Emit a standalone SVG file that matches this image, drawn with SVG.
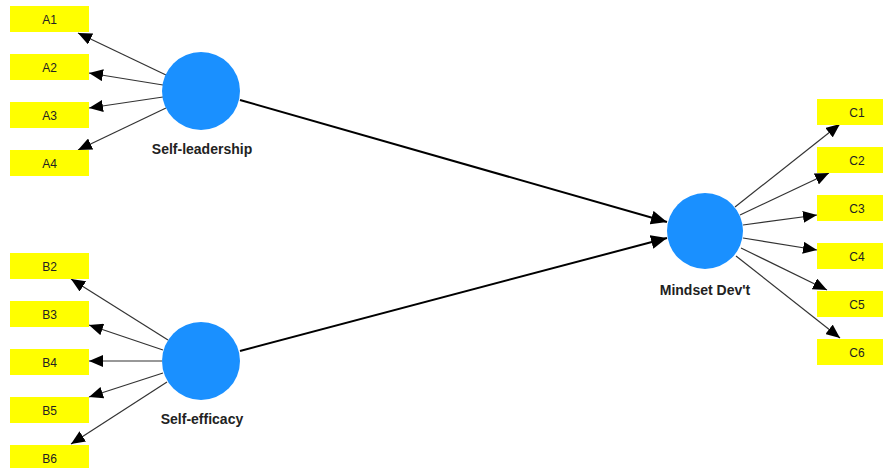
<svg xmlns="http://www.w3.org/2000/svg" width="883" height="468" viewBox="0 0 883 468">
<defs>
<marker id="ah" markerUnits="userSpaceOnUse" markerWidth="14" markerHeight="12" viewBox="0 0 14 12" refX="14" refY="6" orient="auto"><path d="M0,0 L14,6 L0,12 Z" fill="#000"/></marker>
<marker id="ahb" markerUnits="userSpaceOnUse" markerWidth="16" markerHeight="14" viewBox="0 0 16 14" refX="16" refY="7" orient="auto"><path d="M0,0 L16,7 L0,14 Z" fill="#000"/></marker>
</defs>
<style>
.ind rect{fill:#ffff00}
.ind text{font-family:"Liberation Sans",Arial,sans-serif;font-size:12px;fill:#222;text-anchor:middle}
.lv circle{fill:#1a90ff}
.lv text{font-family:"Liberation Sans",Arial,sans-serif;font-size:14px;font-weight:bold;fill:#222;text-anchor:middle}
.ld{stroke:#333;stroke-width:1.2;fill:none;marker-end:url(#ah)}
.pth{stroke:#000;stroke-width:2;fill:none;marker-end:url(#ahb)}
</style>
<rect width="883" height="468" fill="#fff"/>
<g id="connectors">
<line class="ld" x1="166" y1="75" x2="78" y2="33"/>
<line class="ld" x1="163" y1="85" x2="89" y2="73"/>
<line class="ld" x1="163" y1="97" x2="89" y2="108"/>
<line class="ld" x1="166" y1="108" x2="78" y2="150"/>
<line class="ld" x1="168" y1="340" x2="71" y2="279"/>
<line class="ld" x1="163" y1="350" x2="89" y2="325"/>
<line class="ld" x1="162" y1="361" x2="89" y2="361"/>
<line class="ld" x1="163" y1="373" x2="89" y2="397"/>
<line class="ld" x1="167" y1="382" x2="71" y2="444"/>
<line class="ld" x1="735" y1="207" x2="840" y2="124"/>
<line class="ld" x1="740" y1="215" x2="829" y2="173"/>
<line class="ld" x1="743" y1="225" x2="817" y2="215"/>
<line class="ld" x1="743" y1="238" x2="817" y2="250"/>
<line class="ld" x1="741" y1="248" x2="827" y2="290"/>
<line class="ld" x1="736" y1="256" x2="840" y2="338"/>
<line class="pth" x1="240" y1="100" x2="667" y2="222"/>
<line class="pth" x1="240" y1="351" x2="667" y2="238"/>
</g>
<g id="SelfLeadership" class="lv"><circle cx="201" cy="91" r="39"/><text x="202" y="154">Self-leadership</text></g>
<g id="SelfEfficacy" class="lv"><circle cx="201" cy="361" r="39"/><text x="202" y="424">Self-efficacy</text></g>
<g id="MindsetDevt" class="lv"><circle cx="705" cy="231" r="38"/><text x="705" y="295">Mindset Dev't</text></g>
<g id="A1" class="ind"><rect x="10" y="6" width="79" height="26"/><text x="49.5" y="24">A1</text></g>
<g id="A2" class="ind"><rect x="10" y="54" width="79" height="26"/><text x="49.5" y="72">A2</text></g>
<g id="A3" class="ind"><rect x="10" y="102" width="79" height="26"/><text x="49.5" y="120">A3</text></g>
<g id="A4" class="ind"><rect x="10" y="150" width="79" height="26"/><text x="49.5" y="168">A4</text></g>
<g id="B2" class="ind"><rect x="10" y="253" width="79" height="26"/><text x="49.5" y="271">B2</text></g>
<g id="B3" class="ind"><rect x="10" y="301" width="79" height="26"/><text x="49.5" y="319">B3</text></g>
<g id="B4" class="ind"><rect x="10" y="349" width="79" height="26"/><text x="49.5" y="367">B4</text></g>
<g id="B5" class="ind"><rect x="10" y="397" width="79" height="26"/><text x="49.5" y="415">B5</text></g>
<g id="B6" class="ind"><rect x="10" y="445" width="79" height="26"/><text x="49.5" y="463">B6</text></g>
<g id="C1" class="ind"><rect x="817" y="99" width="66" height="26"/><text x="857" y="117">C1</text></g>
<g id="C2" class="ind"><rect x="817" y="147" width="66" height="26"/><text x="857" y="165">C2</text></g>
<g id="C3" class="ind"><rect x="817" y="195" width="66" height="26"/><text x="857" y="213">C3</text></g>
<g id="C4" class="ind"><rect x="817" y="243" width="66" height="26"/><text x="857" y="261">C4</text></g>
<g id="C5" class="ind"><rect x="817" y="291" width="66" height="26"/><text x="857" y="309">C5</text></g>
<g id="C6" class="ind"><rect x="817" y="339" width="66" height="26"/><text x="857" y="357">C6</text></g>
</svg>
